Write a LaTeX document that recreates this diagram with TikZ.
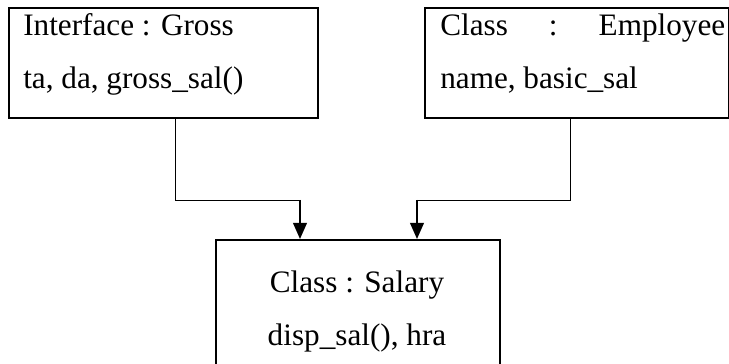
\documentclass[tikz,border=0pt]{standalone}
\usepackage{fontspec}
\setmainfont{Liberation Serif}
\usepackage{tikz}
\usetikzlibrary{arrows.meta,calc}
\tikzset{
         classbox/.style={rectangle,draw,line width=1.4pt,anchor=north west,inner sep=0pt},
         boxtext/.style={font=\fontsize{22.2}{26}\selectfont,inner sep=0pt},
         link/.style={line width=.7pt},
         linkhead/.style={line width=1.4pt,-{Triangle[length=.4cm,width=.34cm]}}
        }
\begin{document}
\begin{tikzpicture}
\useasboundingbox(0,0)rectangle(18.225,9.1);
%boxes
\node[classbox,minimum width=7.725cm,minimum height=2.75cm](gross)at(.2,8.925){};
\node[classbox,minimum width=7.6cm,minimum height=2.75cm](employee)at(10.6,8.925){};
\node[classbox,minimum width=7.1cm,minimum height=3.6cm](salary)at(5.375,3.125){};
%texts
\node[boxtext,anchor=base west](grosst)at(.575,8.2){Interface : Gross};
\node[boxtext,anchor=base west](grossm)at(.575,6.875){ta, da, gross\_sal()};
\node[boxtext,anchor=base west](employeet)at(11,8.2){\makebox[7.125cm][s]{Class\hfill:\hfill Employee}};
\node[boxtext,anchor=base west](employeem)at(11,6.875){name, basic\_sal};
\node[boxtext,anchor=base](salaryt)at(8.925,1.775){Class : Salary};
\node[boxtext,anchor=base](salarym)at(8.925,.45){disp\_sal(), hra};
%connectors
\coordinate(g1)at(4.375,4.1);
\coordinate(g2)at(7.5,4.1);
\coordinate(e1)at(14.25,4.1);
\coordinate(e2)at(10.425,4.1);
\draw[link](gross.south-|g1)--(g1)--(g2);
\draw[linkhead](g2)--(salary.north-|g2);
\draw[link](employee.south-|e1)--(e1)--(e2);
\draw[linkhead](e2)--(salary.north-|e2);
\end{tikzpicture}
\end{document}
